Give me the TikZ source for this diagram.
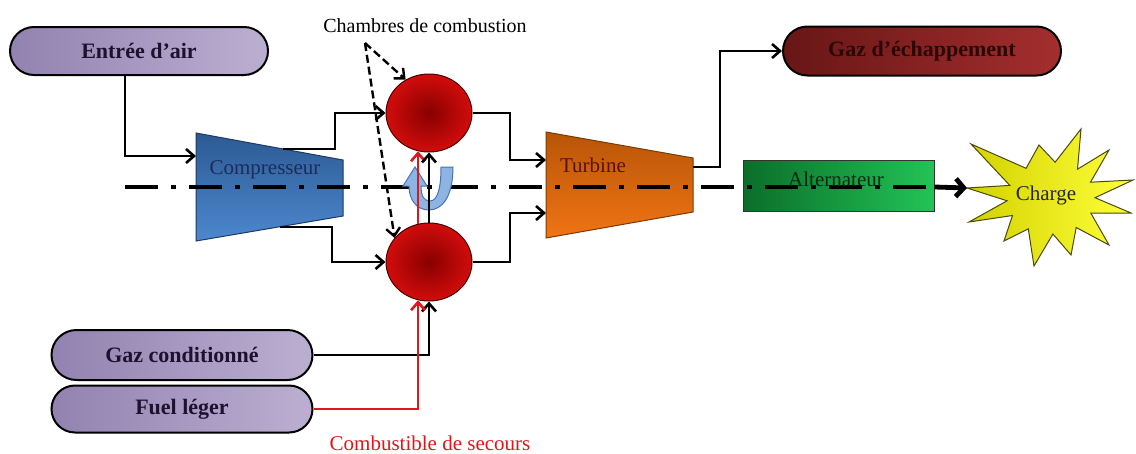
\documentclass[tikz,border=0pt]{standalone}
\usepackage{fontspec}
\setmainfont{Liberation Serif}
\usetikzlibrary{shapes.geometric,shapes.misc,arrows.meta,calc}
\definecolor{purpL}{HTML}{9282B0}
\definecolor{purpR}{HTML}{BBAFD1}
\definecolor{pilltext}{HTML}{1C1230}
\definecolor{exhL}{HTML}{681616}
\definecolor{exhR}{HTML}{A42E2E}
\definecolor{exhtext}{HTML}{2A0808}
\definecolor{compT}{HTML}{2C5A93}
\definecolor{compB}{HTML}{4C88CE}
\definecolor{compD}{HTML}{1D3A63}
\definecolor{comptext}{HTML}{1B2C5C}
\definecolor{turbT}{HTML}{B85508}
\definecolor{turbB}{HTML}{F07414}
\definecolor{turbD}{HTML}{7A3A00}
\definecolor{turbtext}{HTML}{5A1200}
\definecolor{altL}{HTML}{0B6E2A}
\definecolor{altR}{HTML}{22C356}
\definecolor{alttext}{HTML}{0B2A12}
\definecolor{chIn}{HTML}{880000}
\definecolor{chOut}{HTML}{D20C0C}
\definecolor{chD}{HTML}{4A0000}
\definecolor{starL}{HTML}{D2D200}
\definecolor{starR}{HTML}{FFFF3A}
\definecolor{starD}{HTML}{4A4A10}
\definecolor{uFill}{HTML}{8EB4E3}
\definecolor{uDraw}{HTML}{4A74A8}
\definecolor{secours}{HTML}{E0161B}
\begin{document}
\begin{tikzpicture}[x=1pt,y=-1pt,
  bigfont/.style={font=\fontsize{21}{24}\selectfont},
  pill/.style={rounded rectangle, draw=black, line width=2pt, inner sep=0pt,
    left color=purpL, right color=purpR, text=pilltext,
    font=\fontsize{22}{25}\selectfont\bfseries},
  chamber/.style={ellipse, draw=chD, line width=1pt, inner sep=0pt,
    minimum width=86pt, minimum height=78pt, inner color=chIn, outer color=chOut},
  conn/.style={line width=2.6pt, -{Straight Barb[length=8pt,width=14pt]}},
  redconn/.style={conn, draw=secours},
  dashconn/.style={line width=2.4pt, dash pattern=on 8pt off 4pt,
    -{Straight Barb[length=8pt,width=14pt]}},
  axisline/.style={line width=4.8pt, dash pattern=on 33pt off 13pt on 5pt off 13pt},
  axisarrow/.style={line width=4.8pt, -{Straight Barb[length=8pt,width=18pt]}}
]
\useasboundingbox (0,0) rectangle (1136,453);
\fill[white] (0,0) rectangle (1136,453);

% ---- pills
\node[pill, minimum width=258pt, minimum height=48pt] (entree) at (139,51) {Entrée d’air};
\node[pill, minimum width=261pt, minimum height=50pt] (gaz) at (182,355) {Gaz conditionné};
\node[pill, minimum width=261pt, minimum height=47pt] (fuel) at (182,409) {Fuel léger};
\node[pill, minimum width=278pt, minimum height=49pt, left color=exhL, right color=exhR,
  text=exhtext] (exh) at (922,51) {Gaz d’échappement};

% ---- compressor and turbine
\path[draw=compD, line width=1pt, top color=compT, bottom color=compB]
  (196,133) -- (343,160) -- (343,216) -- (196,241) -- cycle;
\path[draw=turbD, line width=1pt, top color=turbT, bottom color=turbB]
  (546,132) -- (693,158) -- (693,212) -- (546,238) -- cycle;
\coordinate (compIn) at (196,156);
\coordinate (compOutT) at (283,149);
\coordinate (compOutB) at (280,227);
\coordinate (turbInT) at (546,160);
\coordinate (turbInB) at (546,213);
\coordinate (turbOut) at (693,167);

% ---- combustion chambers
\node[chamber] (ch1) at (429,113) {};
\node[chamber] (ch2) at (429,262) {};

% ---- alternator box
\node[draw=black!80, line width=1pt, left color=altL, right color=altR,
  minimum width=191pt, minimum height=51pt, inner sep=0pt] (alt) at (838.5,185.5) {};

% ---- load star
\path[draw=starD, line width=1pt, left color=starL, right color=starR]
  (1133,180) -- (1090.5,182.2) -- (1109,150) -- (1077.5,169.2) -- (1081,129) --
  (1055.1,162.2) -- (1039,145) -- (1026.1,168.3) -- (971,144) -- (1009.8,185.4) --
  (967,188) -- (1007.1,200.8) -- (969,222) -- (1012.5,215.5) -- (1004,241) --
  (1028.3,228.9) -- (1034,266) -- (1052.9,234) -- (1071,255) -- (1076.2,227.5) --
  (1109,245) -- (1090.9,213.2) -- (1131,213) -- (1095,197.7) -- cycle;
\coordinate (chargeW) at (967,188);

% ---- shaft axis
\coordinate (axS) at (125,187);
\draw[axisline] (axS) -- (alt.east |- axS);
\draw[axisarrow] (alt.east |- axS) -- (chargeW);

% ---- U-turn arrow between chambers
\path[fill=uFill, draw=uDraw, line width=1pt]
  (453,167) .. controls (453,197) and (442,210) .. (429,210)
  .. controls (416,210) and (409,199) .. (409,186)
  -- (403,186) -- (415,167) -- (427,186) -- (421,186)
  .. controls (421,196) and (424,201) .. (430,201)
  .. controls (437,201) and (441,190) .. (441,167) -- cycle;

% ---- connectors
\draw[conn] (entree.south -| axS) |- (compIn);
\draw[conn] (compOutT) -- (335,149) |- (ch1.west);
\draw[conn] (compOutB) -- (332,227) |- (ch2.west);
\draw[conn] (ch1.east) -- (510,113) |- (turbInT);
\draw[conn] (ch2.east) -- (510,262) |- (turbInB);
\draw[conn] (turbOut) -- (720,167) |- (exh.west);
\draw[conn] (gaz.east) -| (ch2.south);
\draw[redconn] (fuel.east) -| (ch2.254);
\draw[redconn] (ch2.106) -- (ch1.254);
\draw[conn] (ch2.north) -- (ch1.south);

% ---- labels
\node[bigfont, text=comptext] (tcomp) at (265,170) {Compresseur};
\node[bigfont, text=turbtext] (tturb) at (593,165) {Turbine};
\node[bigfont, text=alttext] (talt) at (836,179) {Alternateur};
\node[bigfont, text=black!85] (tcharge) at (1046,195) {Charge};
\node[font=\fontsize{20}{23}\selectfont] (tcham) at (425,26) {Chambres de combustion};
\node[bigfont, text=secours] (tsec) at (430,443) {Combustible de secours};
\coordinate (apex) at (365,43);
\draw[dashconn] (apex) -- (ch1.125);
\draw[dashconn] (apex) -- (ch2.145);
\end{tikzpicture}
\end{document}
